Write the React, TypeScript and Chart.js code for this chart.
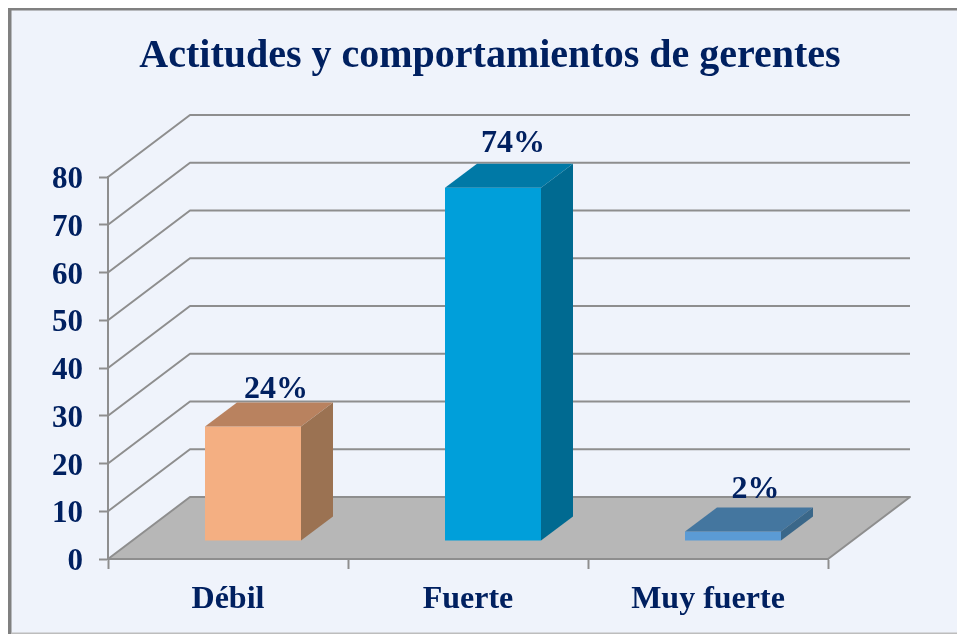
import React, { useEffect, useRef } from "react";
import { Chart, registerables } from "chart.js";

Chart.register(...registerables);

const TITLE = "Actitudes y comportamientos de gerentes";
const categories = ["Débil", "Fuerte", "Muy fuerte"];
const values = [24, 74, 2];
const labels = ["24%", "74%", "2%"];
const frontColors = ["#F4AF82", "#009FDA", "#5B9BD5"];
const topColors = ["#B9825F", "#0079A6", "#44769F"];
const sideColors = ["#9B7252", "#006A91", "#3A6789"];
const labelDx = [23, 20, 22.5];
const labelDy = [28, 36, 33];

const TEXT = "#002060";
const LINE = "#8E8E8E";
const FONT = "'Liberation Serif', serif";
const WALL_DX = 82;
const WALL_DY = -62;
const BAR_DX = 25;
const BAR_DY = -18;
const DEPTH_DX = 32;
const DEPTH_DY = -24;

const scene = {
  id: "scene3d",
  afterLayout(chart: any) {
    if (chart.titleBlock) {
      chart.titleBlock.left = 23;
      chart.titleBlock.right = chart.width;
    }
  },
  beforeDraw(chart: any) {
    const { ctx, width, height } = chart;
    ctx.save();
    ctx.fillStyle = "#FFFFFF";
    ctx.fillRect(0, 0, width, height);
    ctx.fillStyle = "#EFF3FB";
    ctx.fillRect(8, 8, width - 8, height - 8);
    ctx.fillStyle = "#808080";
    ctx.fillRect(8, 8, width - 8, 2.5);
    ctx.fillRect(8, 8, 3.5, height - 8);
    ctx.fillStyle = "#BDBDBD";
    ctx.fillRect(11, height - 1.5, width - 11, 1.5);
    ctx.restore();
  },
  beforeDatasetsDraw(chart: any) {
    const { ctx, scales } = chart;
    const { left, right, bottom } = chart.chartArea;
    const y = scales.y;
    ctx.save();
    ctx.strokeStyle = LINE;
    ctx.lineWidth = 2;
    ctx.lineJoin = "round";
    for (const tick of y.ticks) {
      if (tick.value === 0) continue;
      const py = y.getPixelForValue(tick.value);
      ctx.beginPath();
      ctx.moveTo(left, py);
      ctx.lineTo(left + WALL_DX, py + WALL_DY);
      ctx.lineTo(right + WALL_DX, py + WALL_DY);
      ctx.stroke();
    }
    ctx.beginPath();
    ctx.moveTo(left, bottom);
    ctx.lineTo(left + WALL_DX, bottom + WALL_DY);
    ctx.lineTo(right + WALL_DX, bottom + WALL_DY);
    ctx.lineTo(right, bottom);
    ctx.closePath();
    ctx.fillStyle = "#B7B7B7";
    ctx.fill();
    ctx.stroke();
    ctx.restore();
    ctx.save();
    ctx.translate(BAR_DX, BAR_DY);
  },
  afterDatasetsDraw(chart: any) {
    const { ctx } = chart;
    const bars = chart.getDatasetMeta(0).data;
    bars.forEach((bar: any, i: number) => {
      const l = bar.x - bar.width / 2;
      const r = bar.x + bar.width / 2;
      ctx.fillStyle = topColors[i];
      ctx.beginPath();
      ctx.moveTo(l, bar.y);
      ctx.lineTo(l + DEPTH_DX, bar.y + DEPTH_DY);
      ctx.lineTo(r + DEPTH_DX, bar.y + DEPTH_DY);
      ctx.lineTo(r, bar.y);
      ctx.closePath();
      ctx.fill();
      ctx.fillStyle = sideColors[i];
      ctx.beginPath();
      ctx.moveTo(r, bar.y);
      ctx.lineTo(r + DEPTH_DX, bar.y + DEPTH_DY);
      ctx.lineTo(r + DEPTH_DX, bar.base + DEPTH_DY);
      ctx.lineTo(r, bar.base);
      ctx.closePath();
      ctx.fill();
    });
    ctx.fillStyle = TEXT;
    ctx.font = `bold 32px ${FONT}`;
    ctx.textAlign = "center";
    ctx.textBaseline = "alphabetic";
    bars.forEach((bar: any, i: number) => {
      ctx.fillText(labels[i], bar.x + labelDx[i], bar.y - labelDy[i]);
    });
    ctx.restore();
  },
};

export default function App() {
  const ref = useRef<HTMLCanvasElement>(null);
  useEffect(() => {
    const chart = new Chart(ref.current as HTMLCanvasElement, {
      type: "bar",
      data: {
        labels: categories,
        datasets: [
          {
            data: values,
            backgroundColor: frontColors,
            barPercentage: 0.4,
            categoryPercentage: 1,
            clip: false,
          } as any,
        ],
      },
      options: {
        responsive: false,
        animation: false,
        layout: { padding: { left: 0, right: 129, top: 0, bottom: 0 } },
        plugins: {
          legend: { display: false },
          tooltip: { enabled: false },
          title: {
            display: true,
            text: TITLE,
            color: TEXT,
            font: { family: FONT, size: 40, weight: "bold", lineHeight: 1.2 },
            padding: { top: 33, bottom: 96 },
          },
        },
        scales: {
          x: {
            afterFit(scale: any) {
              scale.height = 75;
            },
            grid: {
              drawOnChartArea: false,
              tickLength: 10,
              tickWidth: 2,
              tickColor: LINE,
              offset: true,
            },
            border: { color: LINE, width: 2 },
            ticks: {
              color: TEXT,
              padding: 12,
              maxRotation: 0,
              font: { family: FONT, size: 32, weight: "bold" },
            },
          },
          y: {
            min: 0,
            max: 80,
            afterFit(scale: any) {
              scale.width = 108;
            },
            grid: {
              drawOnChartArea: false,
              tickLength: 9,
              tickWidth: 2,
              tickColor: LINE,
            },
            border: { color: LINE, width: 2 },
            ticks: {
              stepSize: 10,
              color: TEXT,
              padding: 16,
              labelOffset: 3,
              font: { family: FONT, size: 31, weight: "bold" },
            },
          },
        },
      },
      plugins: [scene],
    } as any);
    return () => chart.destroy();
  }, []);
  return (
    <div style={{ position: "fixed", left: 0, top: 0, width: 957, height: 634 }}>
      <canvas ref={ref} width={957} height={634} style={{ display: "block" }} />
    </div>
  );
}
